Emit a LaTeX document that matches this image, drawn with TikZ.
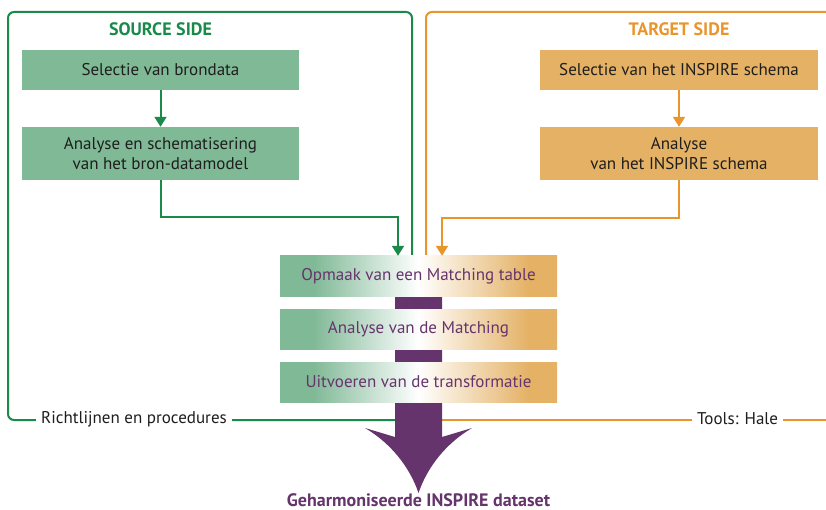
\documentclass[tikz,border=0pt]{standalone}
\usepackage{fontspec}
\setmainfont{PT Sans}
\usetikzlibrary{arrows.meta}
\definecolor{gline}{RGB}{26,138,74}
\definecolor{gfill}{RGB}{128,185,150}
\definecolor{oline}{RGB}{232,149,44}
\definecolor{ofill}{RGB}{228,177,101}
\definecolor{purp}{RGB}{102,52,108}
\definecolor{txt}{RGB}{30,30,30}
\pgfdeclarehorizontalshading{gwo}{100bp}{color(0bp)=(gfill); color(25bp)=(gfill); color(31bp)=(gfill); color(50bp)=(white); color(70bp)=(ofill); color(75bp)=(ofill); color(100bp)=(ofill)}
\tikzset{
  every node/.style={font=\fontsize{17}{20}\selectfont, text=txt},
  gbox/.style={fill=gfill, minimum width=277pt, inner sep=0pt, align=center},
  obox/.style={fill=ofill, minimum width=278pt, inner sep=0pt, align=center},
  mbox/.style={shading=gwo, minimum width=277pt, minimum height=40pt, inner sep=0pt, text=purp},
  gconn/.style={draw=gline, line width=2pt, -{Triangle[width=12pt,length=10pt]}},
  oconn/.style={draw=oline, line width=2pt, -{Triangle[width=12pt,length=10pt]}},
  gframe/.style={draw=gline, line width=2pt, rounded corners=6pt},
  oframe/.style={draw=oline, line width=2pt, rounded corners=6pt},
  head/.style={font=\fontsize{18}{21}\selectfont\bfseries},
  gaplabel/.style={fill=white, inner xsep=5pt, inner ysep=2pt}
}
\begin{document}
\begin{tikzpicture}[x=1pt,y=-1pt]
\useasboundingbox (0,0) rectangle (826,510);
% frames
\draw[gframe] (412,256) -- (412,12) -- (8,12) -- (8,420) -- (418,420);
\draw[oframe] (426,256) -- (426,12) -- (840,12);
\draw[draw=oline, line width=2pt] (418,420) -- (826,420);
\node[gaplabel, anchor=west] (rl) at (36,419) {Richtlijnen en procedures};
\node[gaplabel, anchor=west] (th) at (692,419) {Tools: Hale};
% headings
\node[head, text=gline] (sh) at (160.5,29) {SOURCE SIDE};
\node[head, text=oline] (tgh) at (679,29) {TARGET SIDE};
% purple spine and arrow
\fill[purp] (395,290) -- (395,437) -- (365,428) .. controls (392,444) and (410,468) .. (418.5,493) .. controls (427,468) and (445,444) .. (472,428) -- (442,437) -- (442,290) -- cycle;
% boxes
\node[gbox, minimum height=40pt] (s1) at (160.5,70) {Selectie van brondata};
\node[gbox, minimum height=53pt] (s2) at (160.5,153.5) {Analyse en schematisering\\van het bron-datamodel};
\node[obox, minimum height=40pt] (t1) at (679,70) {Selectie van het INSPIRE schema};
\node[obox, minimum height=53pt] (t2) at (679,153.5) {Analyse\\van het INSPIRE schema};
\node[mbox] (m1) at (418.5,276) {Opmaak van een Matching table};
\node[mbox] (m2) at (418.5,329) {Analyse van de Matching};
\node[mbox] (m3) at (418.5,382) {Uitvoeren van de transformatie};
% connectors
\draw[gconn] (s1.south) -- (s2.north);
\draw[oconn] (t1.south) -- (t2.north);
\coordinate (gc) at (398,217);
\coordinate (oc) at (442,218);
\draw[gconn] (s2.south) |- (gc) -- (gc |- m1.north);
\draw[oconn] (t2.south) |- (oc) -- (oc |- m1.north);
% result
\node[head, text=purp, anchor=base, inner sep=0pt] (res) at (418.5,506.5) {Geharmoniseerde INSPIRE dataset};
\end{tikzpicture}
\end{document}
